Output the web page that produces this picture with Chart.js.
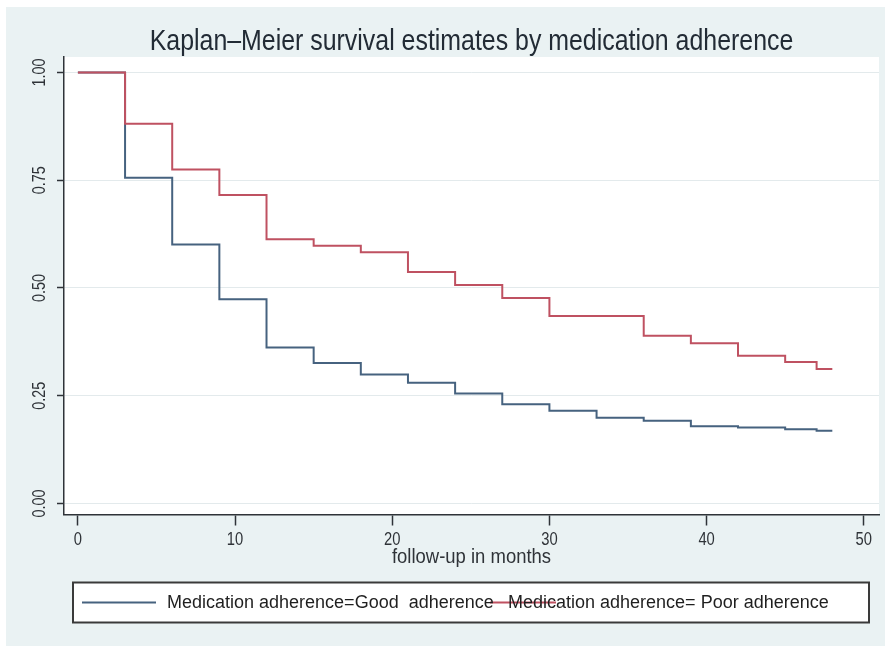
<!DOCTYPE html>
<html>
<head>
<meta charset="utf-8">
<title>Kaplan–Meier survival estimates by medication adherence</title>
<script src="https://cdn.jsdelivr.net/npm/chart.js@4.4.1/dist/chart.umd.min.js"></script>
<style>
  html, body { margin: 0; padding: 0; background: #ffffff; }
  canvas { display: block; }
</style>
</head>
<body>
<canvas id="km" width="885" height="646"></canvas>
<script>
// Kaplan–Meier step estimates, one value per event time (months)
const goodTimes    = [0, 3, 6, 9, 12, 15, 18, 21, 24, 27, 30, 33, 36, 39, 42, 45, 47, 48];
const goodSurvival = [1.00, 0.756, 0.601, 0.474, 0.362, 0.326, 0.299, 0.280, 0.255, 0.230, 0.215, 0.199, 0.192, 0.179, 0.176, 0.172, 0.169, 0.169];

const poorTimes    = [0, 3, 6, 9, 12, 15, 18, 21, 24, 27, 30, 36, 39, 42, 45, 47, 48];
const poorSurvival = [1.00, 0.881, 0.775, 0.716, 0.613, 0.598, 0.583, 0.537, 0.507, 0.477, 0.435, 0.389, 0.372, 0.343, 0.328, 0.312, 0.312];

const seriesLabels = ['Medication adherence=Good  adherence', 'Medication adherence= Poor adherence'];

const xTickValues = [0, 10, 20, 30, 40, 50];
const xTickLabels = ['0', '10', '20', '30', '40', '50'];
const yTickValues = [0, 0.25, 0.5, 0.75, 1];
const yTickLabels = ['0.00', '0.25', '0.50', '0.75', '1.00'];

const titleText  = 'Kaplan–Meier survival estimates by medication adherence';
const xAxisTitle = 'follow-up in months';

const BLUE = '#46627f';
const RED  = '#bf5161';
const INK  = '#2f3338';
const SANS = '"Liberation Sans", Arial, sans-serif';

function toPoints(times, values) {
  return times.map((t, i) => ({ x: t, y: values[i] }));
}

// draws text squeezed horizontally (narrow face look)
function narrowText(ctx, text, x, y, squeeze) {
  ctx.save();
  ctx.translate(x, y);
  ctx.scale(squeeze, 1);
  ctx.fillText(text, 0, 0);
  ctx.restore();
}

// page background, white plot region, title, axis labels and the legend box
const decorations = {
  id: 'decorations',
  beforeDraw(chart) {
    const { ctx, width, height, chartArea: a } = chart;
    ctx.save();
    ctx.fillStyle = '#ffffff';
    ctx.fillRect(0, 0, width, height);
    ctx.fillStyle = '#eaf2f3';
    ctx.fillRect(6, 7, width - 6, height - 7);
    ctx.fillStyle = '#ffffff';
    ctx.fillRect(a.left, a.top, a.right - a.left, a.bottom - a.top);
    ctx.restore();
  },
  afterDraw(chart) {
    const { ctx, chartArea: a } = chart;
    const xScale = chart.scales.x;
    const yScale = chart.scales.y;
    ctx.save();
    ctx.textAlign = 'center';
    ctx.textBaseline = 'middle';

    // title, centred over the plot region
    ctx.fillStyle = '#222b35';
    ctx.font = '30px ' + SANS;
    narrowText(ctx, titleText, (a.left + a.right) / 2, 42, 0.83);

    // x tick labels and axis title
    ctx.fillStyle = INK;
    ctx.font = '18px ' + SANS;
    xTickValues.forEach((v, i) => {
      narrowText(ctx, xTickLabels[i], xScale.getPixelForValue(v), 540, 0.82);
    });
    ctx.font = '21px ' + SANS;
    narrowText(ctx, xAxisTitle, (a.left + a.right) / 2, 557, 0.88);

    // vertical y tick labels
    ctx.font = '18px ' + SANS;
    yTickValues.forEach((v, i) => {
      const y = yScale.getPixelForValue(v);
      ctx.save();
      ctx.translate(40, y);
      ctx.rotate(-Math.PI / 2);
      narrowText(ctx, yTickLabels[i], 0, 0, 0.8);
      ctx.restore();
    });

    // legend
    const box = { left: 73, top: 582.5, right: 869, bottom: 622.5 };
    ctx.fillStyle = '#ffffff';
    ctx.fillRect(box.left, box.top, box.right - box.left, box.bottom - box.top);
    ctx.strokeStyle = '#3a3a3a';
    ctx.lineWidth = 2;
    ctx.strokeRect(box.left, box.top, box.right - box.left, box.bottom - box.top);

    const midY = (box.top + box.bottom) / 2;
    const items = [
      { line: [82, 156], textX: 167 },
      { line: [490, 556], textX: 508 }
    ];
    const ds = chart.data.datasets;
    items.forEach((it, i) => {
      ctx.strokeStyle = ds[i].borderColor;
      ctx.lineWidth = 2;
      ctx.beginPath();
      ctx.moveTo(it.line[0], midY);
      ctx.lineTo(it.line[1], midY);
      ctx.stroke();
    });
    ctx.fillStyle = '#1f1f1f';
    ctx.font = '18px ' + SANS;
    ctx.textAlign = 'left';
    items.forEach((it, i) => {
      ctx.fillText(ds[i].label, it.textX, midY + 1);
    });
    ctx.restore();
  }
};

new Chart(document.getElementById('km'), {
  type: 'line',
  data: {
    datasets: [
      {
        label: seriesLabels[0],
        data: toPoints(goodTimes, goodSurvival),
        borderColor: BLUE,
        borderWidth: 2,
        stepped: 'before',
        pointRadius: 0,
        fill: false,
        order: 1
      },
      {
        label: seriesLabels[1],
        data: toPoints(poorTimes, poorSurvival),
        borderColor: RED,
        borderWidth: 2,
        stepped: 'before',
        pointRadius: 0,
        fill: false,
        order: 0
      }
    ]
  },
  options: {
    responsive: false,
    animation: false,
    devicePixelRatio: 1,
    layout: { padding: { left: 0, right: 6, top: 57, bottom: 70 } },
    plugins: {
      legend: { display: false },
      tooltip: { enabled: false },
      title: { display: false }
    },
    scales: {
      x: {
        type: 'linear',
        min: -0.885,
        max: 50.97,
        afterBuildTicks(scale) { scale.ticks = xTickValues.map(v => ({ value: v })); },
        afterFit(scale) { scale.height = 61.5; },
        grid: { drawOnChartArea: false, tickLength: 11, tickColor: INK, tickWidth: 1.5 },
        border: { color: INK, width: 1.5 },
        ticks: { display: false }
      },
      y: {
        type: 'linear',
        min: -0.0256,
        max: 1.036,
        afterBuildTicks(scale) { scale.ticks = yTickValues.map(v => ({ value: v })); },
        afterFit(scale) { scale.width = 64; },
        grid: { color: '#e3eaec', lineWidth: 1, tickLength: 7, tickColor: INK, tickWidth: 1.5 },
        border: { color: INK, width: 1.5 },
        ticks: { display: false }
      }
    }
  },
  plugins: [decorations]
});
</script>
</body>
</html>
